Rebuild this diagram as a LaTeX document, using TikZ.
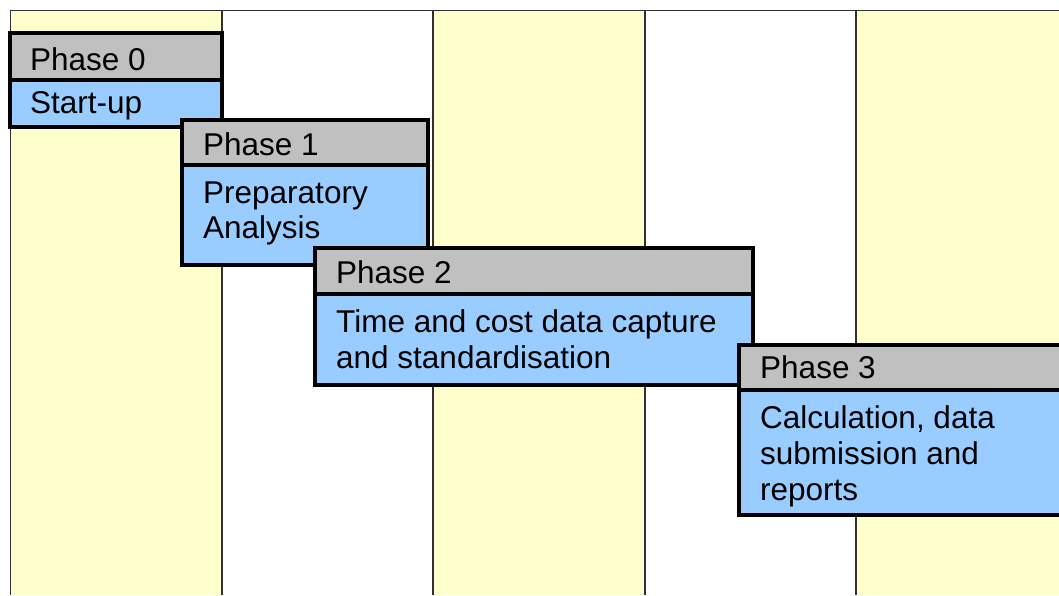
\documentclass[tikz,border=0pt]{standalone}
\usepackage{fontspec}
\setmainfont{Liberation Sans}
\definecolor{colyellow}{HTML}{FFFFCC}
\definecolor{hdrgray}{HTML}{C0C0C0}
\definecolor{bodyblue}{HTML}{99CCFF}
\definecolor{gridline}{HTML}{303030}
\begin{document}
\begin{tikzpicture}[x=1pt,y=-1pt,
  band/.style={fill=colyellow, draw=none},
  gridrule/.style={draw=gridline, line width=1.8pt},
  hdr/.style={rectangle, draw=black, line width=4pt, fill=hdrgray,
              inner sep=0pt, outer sep=0pt, anchor=north west},
  bodybox/.style={rectangle, draw=black, line width=4pt, fill=bodyblue,
              inner sep=0pt, outer sep=0pt, anchor=north west},
  lbl/.style={anchor=base west, inner sep=0pt,
              font=\fontsize{31.5}{36}\selectfont}]
\useasboundingbox (0,0) rectangle (1059,595);
\clip (0,0) rectangle (1059,595);

% background columns
\fill[white] (0,0) rectangle (1059,595);
\path[band] (10,10) rectangle (222,595);
\path[band] (433,10) rectangle (645,595);
\path[band] (856,10) rectangle (1059,595);

% column rules
\coordinate (tl) at (10,10.5);
\coordinate (tr) at (1059,10.5);
\draw[gridrule] (tl) -- (tr);
\foreach \x in {10.5,222,433,645,856}
  \draw[gridrule] (\x,10) -- (\x,595);

% Phase 0
\node[hdr, minimum width=212pt, minimum height=47pt] (h0) at (10,33) {};
\node[bodybox, minimum width=212pt, minimum height=47pt] (b0) at (10,80) {};
\node[lbl] (h0t) at ([shift={(20,37)}]h0.north west) {Phase 0};
\node[lbl] (b0t) at ([shift={(20,33)}]b0.north west) {Start-up};

% Phase 1
\node[hdr, minimum width=246pt, minimum height=45pt] (h1) at (182,120) {};
\node[bodybox, minimum width=246pt, minimum height=100pt] (b1) at (182,165) {};
\node[lbl] (h1t) at ([shift={(21,35)}]h1.north west) {Phase 1};
\node[lbl] (b1a) at ([shift={(21,38)}]b1.north west) {Preparatory};
\node[lbl] (b1b) at ([shift={(21,73)}]b1.north west) {Analysis};

% Phase 2
\node[hdr, minimum width=438pt, minimum height=46pt] (h2) at (315,248) {};
\node[bodybox, minimum width=438pt, minimum height=91pt] (b2) at (315,294) {};
\node[lbl] (h2t) at ([shift={(21,35)}]h2.north west) {Phase 2};
\node[lbl] (b2a) at ([shift={(21,38)}]b2.north west) {Time and cost data capture};
\node[lbl] (b2b) at ([shift={(21,74)}]b2.north west) {and standardisation};

% Phase 3 (runs past the right edge)
\node[hdr, minimum width=340pt, minimum height=45pt] (h3) at (739,345) {};
\node[bodybox, minimum width=340pt, minimum height=125pt] (b3) at (739,390) {};
\node[lbl] (h3t) at ([shift={(21,33)}]h3.north west) {Phase 3};
\node[lbl] (b3a) at ([shift={(21,38)}]b3.north west) {Calculation, data};
\node[lbl] (b3b) at ([shift={(21,74)}]b3.north west) {submission and};
\node[lbl] (b3c) at ([shift={(21,110)}]b3.north west) {reports};
\end{tikzpicture}
\end{document}
